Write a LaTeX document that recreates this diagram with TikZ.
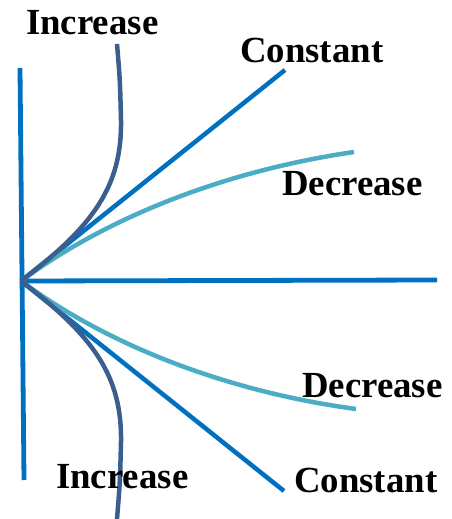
\documentclass[tikz,border=0pt]{standalone}
\usepackage{fontspec}
\setmainfont{Liberation Serif}
\usetikzlibrary{positioning}
\definecolor{axisblue}{HTML}{0070C0}
\definecolor{decblue}{HTML}{4BACC6}
\definecolor{incblue}{HTML}{3A5F8F}

\begin{document}
\begin{tikzpicture}[
    x=1pt, y=-1pt,
    % Styles
    axisline/.style={
        draw=axisblue,
        line width=4.8pt
    },
    constline/.style={
        draw=axisblue,
        line width=4.5pt
    },
    decline/.style={
        draw=decblue,
        line width=4.5pt
    },
    incline/.style={
        draw=incblue,
        line width=4.5pt
    },
    tag/.style={
        font=\fontsize{36.8}{40}\selectfont\bfseries,
        inner sep=0pt,
        anchor=base west
    }
]
\useasboundingbox (0,0) rectangle (451,519);

% Origin and end points
\coordinate (origin) at (21,281);
\coordinate (vtop) at (20,68);
\coordinate (vbot) at (24,480);
\coordinate (hend) at (437,280);
\coordinate (consttop) at (285,70);
\coordinate (constbot) at (284,491);
\coordinate (dectop) at (354,152);
\coordinate (decbot) at (356,409);
\coordinate (inctop) at (117,44);
\coordinate (incbot) at (117,519);

% Axes
\draw[axisline] (vtop) -- (vbot);
\draw[axisline] (origin) -- (hend);

% Constant lines
\draw[constline] (origin) -- (consttop);
\draw[constline] (origin) -- (constbot);

% Decrease curves
\draw[decline] (origin) .. controls (110,215) and (230,170) .. (dectop);
\draw[decline] (origin) .. controls (110,347) and (230,392) .. (decbot);

% Increase curves
\draw[incline] (origin) .. controls (95,225) and (122,185) .. (121,120)
    .. controls (120,80) .. (inctop);
\draw[incline] (origin) .. controls (95,337) and (122,377) .. (121,442)
    .. controls (120,482) .. (incbot);

% Labels
\node[tag] (inctoplabel) at (26,35) {Increase};
\node[tag] (consttoplabel) at (240,63) {Constant};
\node[tag] (dectoplabel) at (282,195) {Decrease};
\node[tag] (decbotlabel) at (302,397) {Decrease};
\node[tag] (constbotlabel) at (294,492) {Constant};
\node[tag] (incbotlabel) at (56,488) {Increase};

\end{tikzpicture}
\end{document}
